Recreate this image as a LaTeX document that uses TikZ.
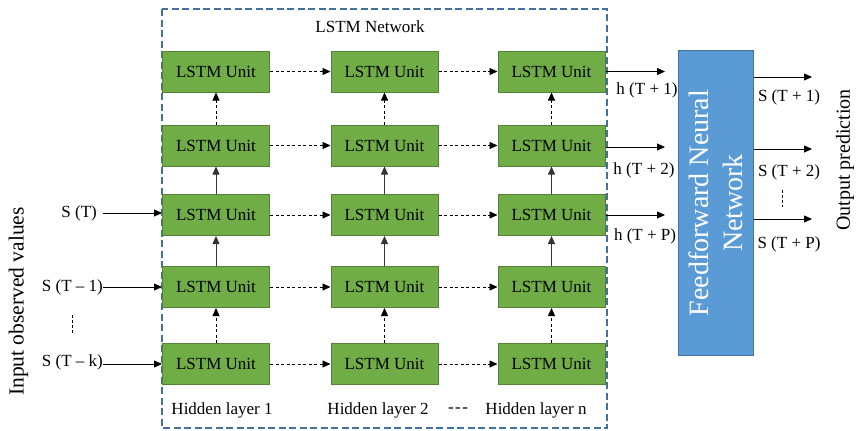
\documentclass[tikz,border=0pt]{standalone}
\usepackage{fontspec}
\setmainfont{Liberation Serif}
\usetikzlibrary{arrows.meta}

\definecolor{unitgreen}{HTML}{70AD47}
\definecolor{unitedge}{HTML}{548235}
\definecolor{netblue}{HTML}{5B9BD5}
\definecolor{netedge}{HTML}{41719C}

\tikzset{
  lstm/.style={draw=unitedge, fill=unitgreen, line width=1pt,
    minimum width=107pt, minimum height=41pt, inner sep=0pt,
    font=\fontsize{17}{20}\selectfont},
  lbl/.style={inner sep=0pt, font=\fontsize{17}{20}\selectfont},
  flow/.style={-{Triangle[length=8pt,width=7pt]}, line width=0.8pt},
  recur/.style={flow, dash pattern=on 3pt off 2.5pt},
}

\begin{document}
\begin{tikzpicture}[x=1pt, y=-1pt]
      \useasboundingbox (0,0) rectangle (857,431);

      % LSTM network frame
      \draw[netedge, line width=1.4pt, dash pattern=on 7pt off 3.5pt] (162,9) rectangle (607,428);
      \node[lbl] (netlbl) at (370,27) {LSTM Network};

      % Hidden layer 1
      \node[lstm] (a1) at (216,71.5) {LSTM Unit};
      \node[lstm] (a2) at (216,145.5) {LSTM Unit};
      \node[lstm] (a3) at (216,215) {LSTM Unit};
      \node[lstm] (a4) at (216,287) {LSTM Unit};
      \node[lstm] (a5) at (216,364) {LSTM Unit};

      % Hidden layer 2
      \node[lstm] (b1) at (384.5,71.5) {LSTM Unit};
      \node[lstm] (b2) at (384.5,145.5) {LSTM Unit};
      \node[lstm] (b3) at (384.5,215) {LSTM Unit};
      \node[lstm] (b4) at (384.5,287) {LSTM Unit};
      \node[lstm] (b5) at (384.5,364) {LSTM Unit};

      % Hidden layer n
      \node[lstm] (c1) at (551.5,71.5) {LSTM Unit};
      \node[lstm] (c2) at (551.5,145.5) {LSTM Unit};
      \node[lstm] (c3) at (551.5,215) {LSTM Unit};
      \node[lstm] (c4) at (551.5,287) {LSTM Unit};
      \node[lstm] (c5) at (551.5,364) {LSTM Unit};

      \node[lbl] (hid1) at (222,410) {Hidden layer 1};
      \node[lbl] (hid2) at (378,410) {Hidden layer 2};
      \node[lbl] (hiddots) at (458,410) {-\kern1.5pt-\kern1.5pt-};
      \node[lbl] (hidn) at (536,410) {Hidden layer n};

      % Recurrent links between layers
      \foreach \r in {1,...,5} {
        \draw[recur] (a\r) -- (b\r);
        \draw[recur] (b\r) -- (c\r);
      }

      % Links between time steps
      \foreach \c in {a,b,c} {
        \draw[recur] (\c5) -- (\c4);
        \draw[flow, black!80] (\c4) -- (\c3);
        \draw[flow, black!80] (\c3) -- (\c2);
        \draw[recur] (\c2) -- (\c1);
      }

      % Inputs
      \node[lbl, anchor=east] (sT) at (97,213) {S (T)};
      \node[lbl, anchor=east] (sT1) at (103,287) {S (T – 1)};
      \node[lbl, anchor=east] (sTk) at (103,362) {S (T – k)};
      \draw[flow] (sT.east) ++(6,0) coordinate (sTin) -- (sTin -| a3.west);
      \draw[flow] (sT1.east) -- (sT1.east -| a4.west);
      \draw[flow] (sTk.east |- a5.west) -- (a5.west);
      \draw[dash pattern=on 3pt off 2pt, line width=0.7pt] (72,315) -- (72,333);
      \node[rotate=90, inner sep=0pt, font=\fontsize{21.5}{24}\selectfont] (inlbl) at (18.5,301.5) {Input observed values};

      % Hidden states
      \coordinate (h1) at (665,71.5);
      \coordinate (h2) at (665,147);
      \coordinate (h3) at (665,215);
      \draw[flow] (c1.east) -- (h1);
      \draw[flow] (c2.east |- h2) -- (h2);
      \draw[flow] (c3.east) -- (h3);
      \node[lbl] (hT1) at (647,90) {h (T + 1)};
      \node[lbl] (hT2) at (644,170) {h (T + 2)};
      \node[lbl] (hTP) at (645,236) {h (T + P)};

      % Feedforward network
      \node[draw=netedge, fill=netblue, line width=1pt, minimum width=75pt, minimum height=305pt] (ffn) at (715.5,203) {};
      \node[rotate=90, white, align=center, font=\fontsize{28}{34}\selectfont] (ffnlbl) at (ffn.center) {Feedforward Neural\\Network};

      % Outputs
      \coordinate (o1) at (812,77);
      \coordinate (o2) at (812,149);
      \coordinate (o3) at (812,219);
      \draw[flow] (ffn.east |- o1) -- (o1);
      \draw[flow] (ffn.east |- o2) -- (o2);
      \draw[flow] (ffn.east |- o3) -- (o3);
      \node[lbl] (sO1) at (789,97) {S (T + 1)};
      \node[lbl] (sO2) at (789,172) {S (T + 2)};
      \node[lbl] (sOP) at (789,244) {S (T + P)};
      \draw[dash pattern=on 3pt off 2pt, line width=0.7pt] (782,190) -- (782,207);
      \node[rotate=90, inner sep=0pt, font=\fontsize{20}{24}\selectfont] (outlbl) at (845,160) {Output prediction};
\end{tikzpicture}
\end{document}
